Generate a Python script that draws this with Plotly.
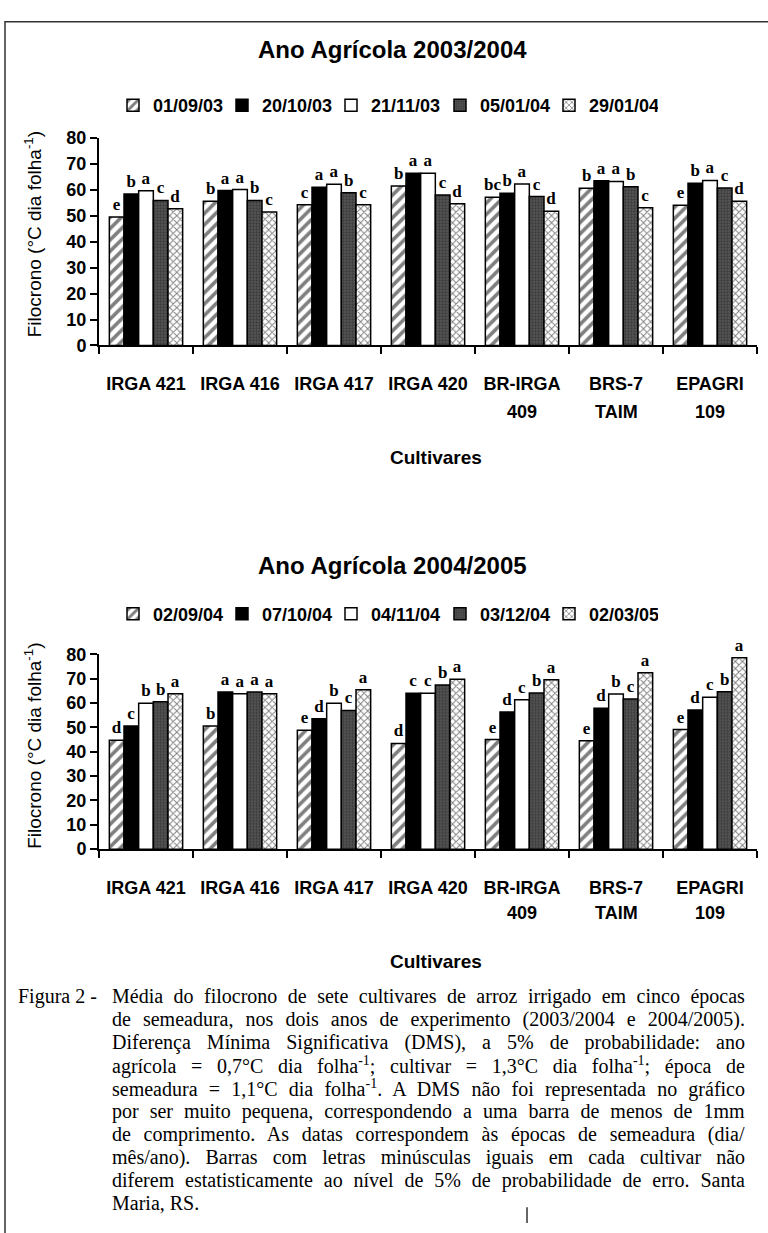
import json
import plotly.graph_objects as go

W, H = 768, 1233

cultivars = ["IRGA 421", "IRGA 416", "IRGA 417", "IRGA 420", "BR-IRGA 409", "BRS-7 TAIM", "EPAGRI 109"]
tick_line1 = ["IRGA 421", "IRGA 416", "IRGA 417", "IRGA 420", "BR-IRGA", "BRS-7", "EPAGRI"]
tick_line2 = ["", "", "", "", "409", "TAIM", "109"]

# 2003/2004
dates_1 = ["01/09/03", "20/10/03", "21/11/03", "05/01/04", "29/01/04"]
v1_s1 = [49.5, 55.6, 54.2, 61.5, 57.1, 60.6, 54.0]
v1_s2 = [58.4, 59.7, 61.0, 66.4, 58.7, 63.5, 62.5]
v1_s3 = [59.6, 60.1, 62.1, 66.4, 62.2, 63.2, 63.6]
v1_s4 = [55.9, 55.9, 58.9, 58.0, 57.4, 61.2, 60.7]
v1_s5 = [52.7, 51.4, 54.2, 54.6, 51.7, 53.1, 55.6]
l1_s1 = ["e", "b", "c", "b", "bc", "b", "e"]
l1_s2 = ["b", "a", "a", "a", "b", "a", "b"]
l1_s3 = ["a", "a", "a", "a", "a", "a", "a"]
l1_s4 = ["c", "b", "b", "c", "c", "b", "c"]
l1_s5 = ["d", "c", "c", "d", "d", "c", "d"]

# 2004/2005
dates_2 = ["02/09/04", "07/10/04", "04/11/04", "03/12/04", "02/03/05"]
v2_s1 = [44.7, 50.6, 48.8, 43.4, 45.0, 44.5, 49.1]
v2_s2 = [50.6, 64.5, 53.6, 64.0, 56.3, 57.9, 57.2]
v2_s3 = [59.9, 63.8, 59.9, 64.0, 61.4, 63.7, 62.4]
v2_s4 = [60.5, 64.5, 57.0, 67.4, 64.1, 61.7, 64.7]
v2_s5 = [63.8, 63.8, 65.5, 69.8, 69.6, 72.5, 78.6]
l2_s1 = ["d", "b", "e", "d", "e", "e", "e"]
l2_s2 = ["c", "a", "d", "c", "d", "d", "d"]
l2_s3 = ["b", "a", "b", "c", "c", "b", "c"]
l2_s4 = ["b", "a", "c", "b", "b", "c", "b"]
l2_s5 = ["a", "a", "a", "a", "a", "a", "a"]

caption_first = "Média do filocrono de sete cultivares de arroz irrigado em cinco épocas"
caption_lines = [
    "de semeadura, nos dois anos de experimento (2003/2004 e 2004/2005).",
    "Diferença Mínima Significativa (DMS), a 5% de probabilidade: ano",
    "agrícola = 0,7°C dia folha<sup>-1</sup>; cultivar = 1,3°C dia folha<sup>-1</sup>; época de",
    "semeadura = 1,1°C dia folha<sup>-1</sup>. A DMS não foi representada no gráfico",
    "por ser muito pequena, correspondendo a uma barra de menos de 1mm",
    "de comprimento. As datas correspondem às épocas de semeadura (dia/",
    "mês/ano). Barras com letras minúsculas iguais em cada cultivar não",
    "diferem estatisticamente ao nível de 5% de probabilidade de erro. Santa",
    "Maria, RS.",
]

SANS = "Arial, Liberation Sans, sans-serif"
SERIF = "Times New Roman, Liberation Serif, serif"

def px(x):
    return x / W

def py(y):
    return 1 - y / H

styles = [
    dict(color="white", pattern=dict(shape="/", fgcolor="black", bgcolor="white", size=8, solidity=0.45)),
    dict(color="black"),
    dict(color="white"),
    dict(color="#4a4a4a", pattern=dict(shape=".", fgcolor="#1e1e1e", bgcolor="#595959", size=3, solidity=0.5)),
    dict(color="white", pattern=dict(shape="x", fgcolor="black", bgcolor="white", size=5, solidity=0.35)),
]

fig = go.Figure()

def add_group(dates, vals, lets, xa, ya, legend):
    for i, (d, v, l) in enumerate(zip(dates, vals, lets)):
        mk = dict(styles[i])
        mk["line"] = dict(color="black", width=1.5)
        fig.add_trace(go.Bar(
            x=cultivars, y=v, name=d, marker=mk, text=l,
            textposition="outside", constraintext="none", cliponaxis=False,
            textfont=dict(family=SERIF, size=17, color="black", weight="bold"),
            xaxis=xa, yaxis=ya, legend=legend, hoverinfo="skip",
        ))

add_group(dates_1, [v1_s1, v1_s2, v1_s3, v1_s4, v1_s5],
          [l1_s1, l1_s2, l1_s3, l1_s4, l1_s5], "x", "y", "legend")
add_group(dates_2, [v2_s1, v2_s2, v2_s3, v2_s4, v2_s5],
          [l2_s1, l2_s2, l2_s3, l2_s4, l2_s5], "x2", "y2", "legend2")

TICK_FONT = dict(family=SANS, size=18, color="black", weight="bold")
xdom = [px(99), px(757)]
axis_common_x = dict(
    type="category", showline=True, linecolor="black", linewidth=2,
    ticks="outside", tickson="boundaries", ticklen=7, tickwidth=2, tickcolor="black",
    tickangle=0, tickvals=cultivars, ticktext=tick_line1,
    tickfont=TICK_FONT,
    showgrid=False, zeroline=False, fixedrange=True, ticklabelstandoff=21,
)
axis_common_y = dict(
    range=[0, 80], dtick=10, showline=True, linecolor="black", linewidth=2,
    ticks="outside", ticklen=7, tickwidth=2, tickcolor="black",
    tickfont=dict(family=SANS, size=18, color="black", weight="bold"),
    showgrid=False, zeroline=False, fixedrange=True,
)

legend_common = dict(
    orientation="h", font=dict(family=SANS, size=18, color="black", weight="bold"),
    bgcolor="rgba(0,0,0,0)", itemwidth=30, entrywidth=64, entrywidthmode="pixels",
    xanchor="left", yanchor="middle", itemclick=False, itemdoubleclick=False,
)

fig.update_layout(
    width=W, height=H, margin=dict(l=0, r=0, t=0, b=0),
    paper_bgcolor="white", plot_bgcolor="white",
    barmode="group", bargap=0.22, bargroupgap=0,
    xaxis=dict(domain=xdom, anchor="y", **axis_common_x),
    yaxis=dict(domain=[py(341), py(130)], anchor="x", **axis_common_y),
    xaxis2=dict(domain=xdom, anchor="y2", **axis_common_x),
    yaxis2=dict(domain=[py(853), py(655)], anchor="x2", **axis_common_y),
    legend=dict(x=px(113), y=py(97), **legend_common),
    legend2=dict(x=px(113), y=py(614), **legend_common),
    showlegend=True,
)

ann = []
def text(x, y, s, size, family=SANS, bold=True, xanchor="center", angle=0, align="center"):
    ann.append(dict(x=px(x), y=py(y), xref="paper", yref="paper", text=s, showarrow=False,
                    xanchor=xanchor, yanchor="middle", textangle=angle, align=align,
                    font=dict(family=family, size=size, color="black", weight="bold" if bold else "normal")))

text(392, 40, "Ano Agrícola 2003/2004", 24)
text(392, 565, "Ano Agrícola 2004/2005", 24)
text(436, 455, "Cultivares", 19)
text(436, 967, "Cultivares", 19)
text(33, 228, "Filocrono (°C dia folha<sup>-1</sup>)", 19, bold=False, angle=-90)
text(33, 748, "Filocrono (°C dia folha<sup>-1</sup>)", 19, bold=False, angle=-90)

# second line of the category labels, placed on the category axis
for xref, yline in (("x", 409), ("x2", 918)):
    for c, t2 in zip(cultivars, tick_line2):
        if t2:
            ann.append(dict(x=c, xref=xref, y=py(yline), yref="paper", text=t2, showarrow=False,
                            xanchor="center", yanchor="middle", font=TICK_FONT))

CAP_X = 110
CAP_SIZE = 20
CAP_RIGHT = 745
text(16, 1003, "Figura 2 -", CAP_SIZE, family=SERIF, bold=False, xanchor="left", align="left")
justify_idx = [len(ann)]
text(CAP_X, 1003, caption_first, CAP_SIZE, family=SERIF, bold=False, xanchor="left", align="left")
for i, line in enumerate(caption_lines):
    if i < len(caption_lines) - 1:
        justify_idx.append(len(ann))
    text(CAP_X, 1003 + (i + 1) * 23.3, line, CAP_SIZE, family=SERIF, bold=False, xanchor="left", align="left")

fig.update_layout(annotations=ann)

fig.add_shape(type="rect", xref="paper", yref="paper", x0=px(5), x1=px(775), y0=py(1245), y1=py(12),
              line=dict(color="#333333", width=1.5), fillcolor="rgba(0,0,0,0)", layer="below")
fig.add_shape(type="line", xref="paper", yref="paper", x0=px(527), x1=px(527), y0=py(1233), y1=py(1217),
              line=dict(color="#333333", width=1.5))

# page without default body margin; caption lines justified to the same right edge
post = """
document.body.style.margin='0';
document.body.style.overflow='hidden';
var idx = %s;
var rightEdge = %d;
var gd = document.getElementById('{plot_id}');
var anns = gd.querySelectorAll('g.annotation text.annotation-text');
var gbox = gd.getBoundingClientRect();
idx.forEach(function(i){
  var t = anns[i]; if(!t) return;
  var txt = t.textContent; var n = (txt.match(/ /g) || []).length;
  if(!n) return;
  var bb = t.getBoundingClientRect();
  var left = bb.left - gbox.left;
  var w = bb.width;
  var extra = (rightEdge - left - w) / n;
  t.setAttribute('word-spacing', extra.toFixed(2));
  t.style.wordSpacing = extra.toFixed(2) + 'px';
});
""" % (json.dumps(justify_idx), CAP_RIGHT)

fig.write_html("out.html", post_script=post, config={"displayModeBar": False, "staticPlot": True})
